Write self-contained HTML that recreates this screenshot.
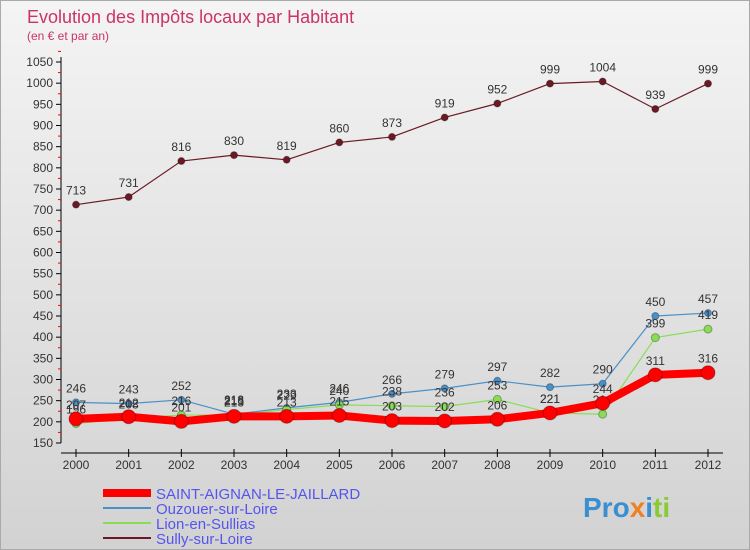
<!DOCTYPE html>
<html><head><meta charset="utf-8"><style>
body{margin:0}
#c{width:750px;height:550px;position:relative;background:linear-gradient(#f4f4f4,#d2d2d2);font-family:"Liberation Sans",sans-serif;overflow:hidden;border:1px solid #aaa;box-sizing:border-box}
</style></head><body>
<div id="c">
<svg width="750" height="550" id="s">
<text x="26" y="22" font-size="18" fill="#cc3366">Evolution des Impôts locaux par Habitant</text>
<text x="26" y="39" font-size="12" fill="#cc3366">(en € et par an)</text>
<g id="axes"></g><g id="series"></g>
<g>
<line x1="102" y1="492" x2="150" y2="492" stroke="#f00" stroke-width="8"/>
<text x="155" y="498" font-size="15" fill="#5555ee">SAINT-AIGNAN-LE-JAILLARD</text>
<line x1="102" y1="507" x2="150" y2="507" stroke="#4a90c8" stroke-width="2"/>
<text x="155" y="513" font-size="15" fill="#5555ee">Ouzouer-sur-Loire</text>
<line x1="102" y1="522" x2="150" y2="522" stroke="#88dd55" stroke-width="2"/>
<text x="155" y="528" font-size="15" fill="#5555ee">Lion-en-Sullias</text>
<line x1="102" y1="537" x2="150" y2="537" stroke="#6b1a24" stroke-width="2"/>
<text x="155" y="543" font-size="15" fill="#5555ee">Sully-sur-Loire</text>
</g>
<text x="582" y="516" font-size="28" font-weight="bold"><tspan fill="#3a8fd0">Pro</tspan><tspan fill="#f08020">x</tspan><tspan fill="#3a8fd0">i</tspan><tspan fill="#88cc33">ti</tspan></text>
</svg></div>
<script>
const years=[2000,2001,2002,2003,2004,2005,2006,2007,2008,2009,2010,2011,2012];
const yTicks=[150,200,250,300,350,400,450,500,550,600,650,700,750,800,850,900,950,1000,1050];
const saint=[207,212,201,213,213,215,203,202,206,221,244,311,316];
const ouzouer=[246,243,252,218,233,246,266,279,297,282,290,450,457];
const lion=[196,208,216,216,229,240,238,236,253,221,218,399,419];
const sully=[713,731,816,830,819,860,873,919,952,999,1004,939,999];
const NS="http://www.w3.org/2000/svg";
const X=i=>75+i*(707-75)/(years.length-1);
const Y=v=>442-(v-150)*(442-61)/900;
function mk(t,a,p){const e=document.createElementNS(NS,t);for(const k in a)e.setAttribute(k,a[k]);p.appendChild(e);return e;}
const ax=document.getElementById('axes'),sg=document.getElementById('series');
mk('line',{x1:60,y1:56,x2:60,y2:442,stroke:'#000'},ax);
mk('line',{x1:60,y1:452,x2:722,y2:452,stroke:'#000'},ax);
yTicks.forEach(v=>{
 mk('line',{x1:55,y1:Y(v),x2:60,y2:Y(v),stroke:'#000'},ax);
 mk('line',{x1:57,y1:Y(v+25),x2:60,y2:Y(v+25),stroke:'#f00'},ax);
 const t=mk('text',{x:52,y:Y(v)+4,'font-size':12,'text-anchor':'end',fill:'#333'},ax);t.textContent=v;
 
 
});
years.forEach((y,i)=>{
 mk('line',{x1:X(i),y1:448,x2:X(i),y2:456,stroke:'#000'},ax);
 const t=mk('text',{x:X(i),y:468,'font-size':12,'text-anchor':'middle',fill:'#333'},ax);t.textContent=y;
 
 
});
function series(d,col,w,r,name){
 const g=mk('g',{},sg);
 
 
 mk('polyline',{points:d.map((v,i)=>X(i)+','+Y(v)).join(' '),fill:'none',stroke:col,'stroke-width':w,'stroke-linejoin':'round'},g);
 d.forEach((v,i)=>{
  const c=mk('circle',{cx:X(i),cy:Y(v),r:r,fill:col,stroke:'rgba(0,0,0,0.3)'},g);
  
  
  const t=mk('text',{x:X(i),y:Y(v)-10,'font-size':12,'text-anchor':'middle',fill:'#333'},g);t.textContent=v;
  
  
 });
}
series(sully,'#6b1a24',1.2,3.5,'series-sully');
series(ouzouer,'#4a90c8',1.2,3.5,'series-ouzouer');
series(lion,'#88dd55',1.2,4,'series-lion');
series(saint,'#f00',8,7,'series-saint-aignan');
</script>
</body></html>
